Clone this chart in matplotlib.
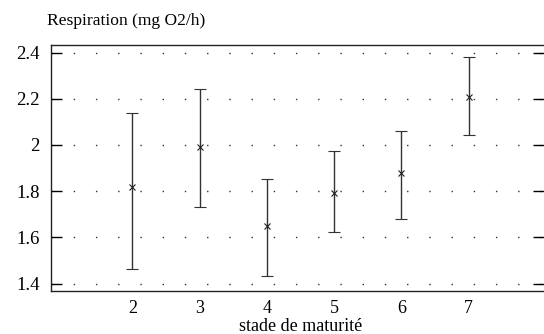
import matplotlib
matplotlib.use("Agg")
import matplotlib.pyplot as plt
import numpy as np

stades = [2, 3, 4, 5, 6, 7]
moyenne = [1.816, 1.990, 1.651, 1.794, 1.877, 2.207]
borne_haute = [2.138, 2.242, 1.851, 1.972, 2.059, 2.381]
borne_basse = [1.463, 1.733, 1.433, 1.624, 1.681, 2.042]
yticks = [1.4, 1.6, 1.8, 2.0, 2.2, 2.4]
ytick_labels = ["1.4", "1.6", "1.8", "2", "2.2", "2.4"]

plt.rcParams['font.family'] = ['Liberation Serif', 'DejaVu Serif']

fig = plt.figure(figsize=(5.44, 3.34), dpi=100)
ax = fig.add_axes([0.0932, 0.1296, 0.9068, 0.7357])

m = np.array(moyenne)
err = [m - np.array(borne_basse), np.array(borne_haute) - m]
ax.errorbar(stades, moyenne, yerr=err, fmt='x', color='#222222', ecolor='#333333',
            elinewidth=1.0, capsize=4, capthick=1.2, markersize=4, markeredgewidth=0.8)

ax.set_xlim(0.785, 8.12)
ax.set_ylim(1.369, 2.433)
ax.set_yticks(yticks)
ax.set_yticklabels(ytick_labels)
ax.set_xticks(stades)
ax.set_xticklabels([str(s) for s in stades])

for y in yticks:
    ax.axhline(y, color='#333333', lw=1.0, linestyle=(0, (1, 15)), zorder=0)

ax.tick_params(axis='y', direction='in', length=8, width=1.0, labelsize=13.5,
               right=True, pad=8)
ax.tick_params(axis='x', length=0, labelsize=13, pad=7)
ax.spines['right'].set_visible(False)
for s in ['left', 'top', 'bottom']:
    ax.spines[s].set_linewidth(1.0)
    ax.spines[s].set_color('#222222')

fig.text(0.086, 0.937, "Respiration (mg O2/h)", fontsize=12.6, ha='left', va='center')
fig.text(0.552, 0.022, "stade de maturité", fontsize=13, ha='center', va='center')

fig.savefig("out.png", dpi=100)
